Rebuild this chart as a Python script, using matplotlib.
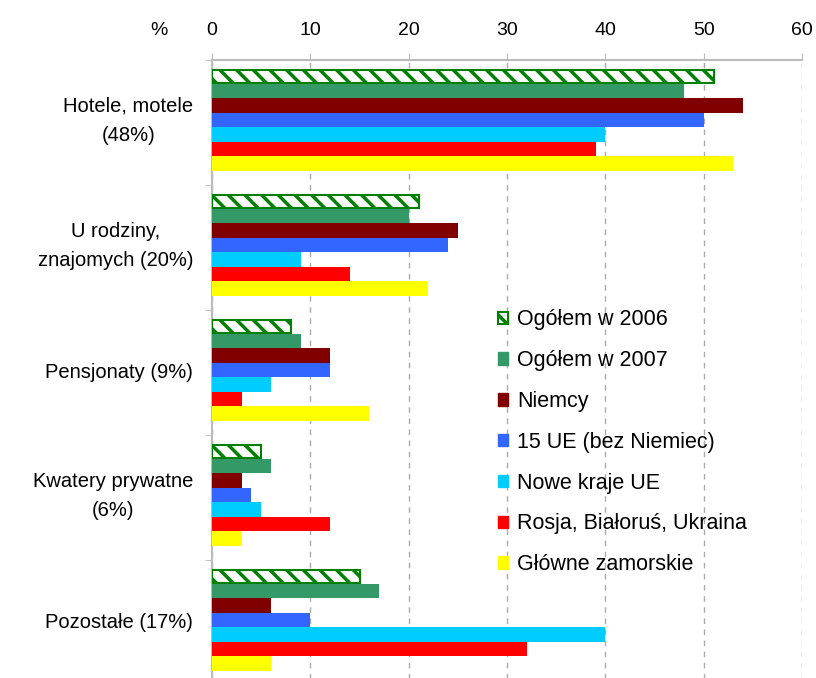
#!/usr/bin/env python3
'''Noclegi wg rodzaju obiektu i grupy turystow - poziomy wykres slupkowy'''

import matplotlib.pyplot as plt
import matplotlib.patches as mpatches
import matplotlib.transforms as mtrans
import numpy as np

plt.rcParams['font.family'] = ['Liberation Sans', 'DejaVu Sans']
plt.rcParams['hatch.linewidth'] = 2.5

categories = ['Hotele, motele\n(48%)', 'U rodziny,\nznajomych (20%)', 'Pensjonaty (9%)',
              'Kwatery prywatne\n(6%)', 'Pozostałe (17%)']
series_names = ['Ogółem w 2006', 'Ogółem w 2007', 'Niemcy', '15 UE (bez Niemiec)',
                'Nowe kraje UE', 'Rosja, Białoruś, Ukraina', 'Główne zamorskie']
ogolem_2006 = [51, 21, 8, 5, 15]
ogolem_2007 = [48, 20, 9, 6, 17]
niemcy = [54, 25, 12, 3, 6]
ue15 = [50, 24, 12, 4, 10]
nowe_ue = [40, 9, 6, 5, 40]
rosja = [39, 14, 3, 12, 32]
zamorskie = [53, 22, 16, 3, 6]
x_ticks = [0, 10, 20, 30, 40, 50, 60]

series = [ogolem_2006, ogolem_2007, niemcy, ue15, nowe_ue, rosja, zamorskie]
colors = ['white', '#339966', '#800000', '#3366FF', '#00CCFF', '#FF0000', '#FFFF00']

fig = plt.figure(figsize=(8.16, 6.78), dpi=100)
ax = fig.add_axes([0.26, -0.0105, 0.723, 0.922])

y = np.arange(len(categories))
h = 0.116
for i, (vals, col) in enumerate(zip(series, colors)):
    pos = y - 3 * h + i * h - 0.02
    if i == 0:
        ax.barh(pos, vals, height=h * 0.93, color='white', edgecolor='#008000',
                hatch='\\\\', linewidth=1.5, zorder=3)
    else:
        ax.barh(pos, vals, height=h, color=col, zorder=3)

ax.set_xlim(0, 60)
ax.set_ylim(4.5, -0.5)
ax.xaxis.tick_top()
ax.set_xticks(x_ticks)
ax.tick_params(axis='x', length=5, color='#BBBBBB', labelsize=14, pad=10)

# category labels drawn as text so two-line labels sit like in the original
ax.set_yticks([])
ax.set_yticks(np.arange(-0.5, 5, 1), minor=True)
ax.tick_params(axis='y', which='minor', length=5, color='#BBBBBB')
lab_tr = mtrans.blended_transform_factory(ax.transAxes, ax.transData)
for yc, cat in zip(y, categories):
    off = -0.012 if '\n' in cat else 0
    ax.text(-0.032, yc + off, cat, transform=lab_tr, fontsize=14.5, ha='right',
            va='center', ma='center', linespacing=1.67)

ax.grid(axis='x', color='#AAAAAA', linestyle=(0, (4, 4)), linewidth=1, zorder=0)
for s in ['right', 'bottom']:
    ax.spines[s].set_visible(False)
for s in ['top', 'left']:
    ax.spines[s].set_color('#BBBBBB')
    ax.spines[s].set_linewidth(1.5)

fig.text(0.195, 0.955, '%', fontsize=14, ha='center', va='center')

handles = [mpatches.Patch(facecolor='white', edgecolor='#008000', hatch='\\\\', linewidth=1.5)]
handles += [mpatches.Patch(color=c) for c in colors[1:]]
ax.legend(handles, series_names, loc='upper left', bbox_to_anchor=(0.451, 0.632),
          frameon=False, fontsize=15.5, handlelength=0.5, handleheight=0.5,
          handletextpad=0.4, labelspacing=0.92, borderpad=0.4)

fig.savefig('out.png', dpi=100)
